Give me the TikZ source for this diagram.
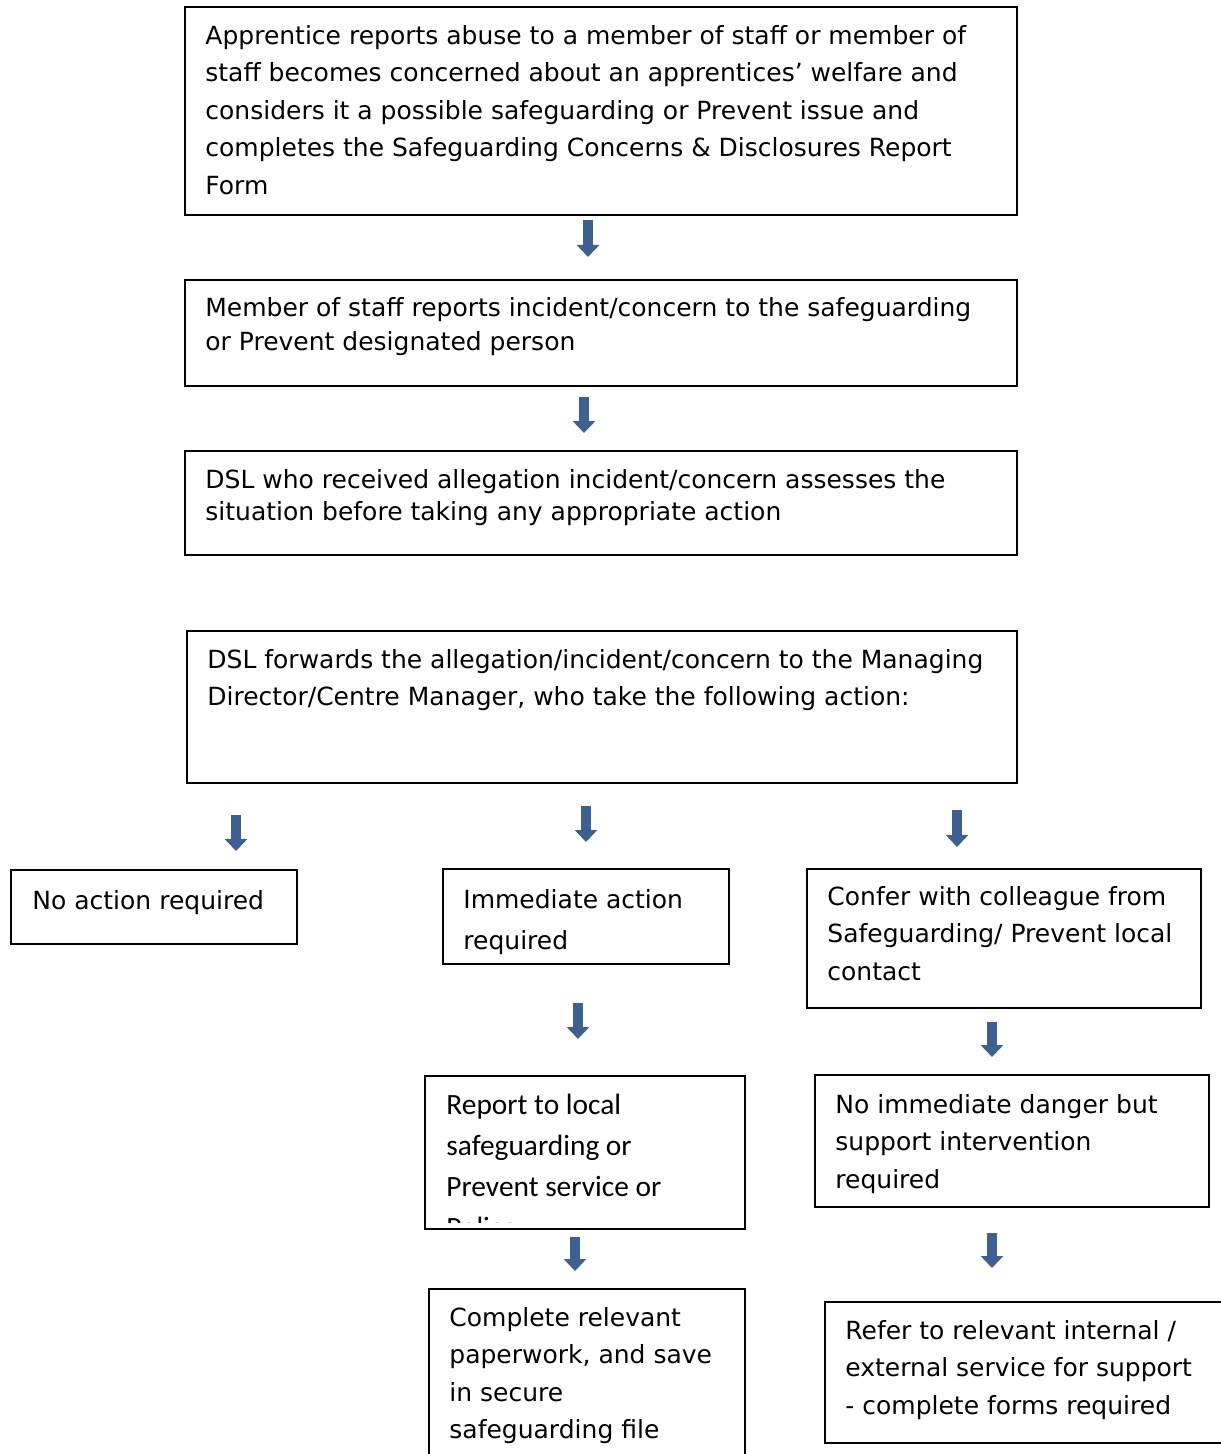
\documentclass[tikz,border=0pt]{standalone}
\usepackage{fontspec}
\setmainfont{DejaVu Sans}
\newfontfamily\calibrifont{Carlito}
\usetikzlibrary{arrows.meta}
\definecolor{arrowblue}{RGB}{62,96,145}

\begin{document}
\begin{tikzpicture}[x=0.5pt, y=-0.5pt,
    flowbox/.style={draw, line width=1pt, inner sep=0pt},
    flowtext/.style={anchor=north west, inner sep=0pt, align=left},
    downarrow/.style={draw=arrowblue, line width=5pt, -{Triangle[width=11pt, length=6pt]}}]
    \useasboundingbox (0,0) rectangle (1220,1454);

    % top column of boxes
    \node[flowbox, minimum width=416pt, minimum height=104pt] (report) at (601,111) {};
    \node[flowtext, font=\fontsize{12.5}{18.75}\selectfont] (reporttxt) at (205,25)
        {Apprentice reports abuse to a member of staff or member of\\
         staff becomes concerned about an apprentices’ welfare and\\
         considers it a possible safeguarding or Prevent issue and\\
         completes the Safeguarding Concerns \& Disclosures Report\\
         Form};

    \node[flowbox, minimum width=416pt, minimum height=53pt] (tell) at (601,333) {};
    \node[flowtext, font=\fontsize{12.5}{17}\selectfont] (telltxt) at (205,297)
        {Member of staff reports incident/concern to the safeguarding\\
         or Prevent designated person};

    \node[flowbox, minimum width=416pt, minimum height=52pt] (assess) at (601,503) {};
    \node[flowtext, font=\fontsize{12.5}{16}\selectfont] (assesstxt) at (205,469)
        {DSL who received allegation incident/concern assesses the\\
         situation before taking any appropriate action};

    \node[flowbox, minimum width=415pt, minimum height=76pt] (forward) at (602,707) {};
    \node[flowtext, font=\fontsize{12.5}{18.5}\selectfont] (forwardtxt) at (207,649)
        {DSL forwards the allegation/incident/concern to the Managing\\
         Director/Centre Manager, who take the following action:};

    % three outcomes
    \node[flowbox, minimum width=143pt, minimum height=37pt] (noaction) at (154,907) {};
    \node[flowtext, font=\fontsize{12.5}{18.75}\selectfont] (noactiontxt) at (32,890)
        {No action required};

    \node[flowbox, minimum width=143pt, minimum height=47.5pt] (immediate) at (586,916.5) {};
    \node[flowtext, font=\fontsize{12.5}{20.5}\selectfont] (immediatetxt) at (463,889)
        {Immediate action\\ required};

    \node[flowbox, minimum width=197pt, minimum height=69.5pt] (confer) at (1004,938.5) {};
    \node[flowtext, font=\fontsize{12.5}{18.75}\selectfont] (confertxt) at (827,886)
        {Confer with colleague from\\
         Safeguarding/ Prevent local\\
         contact};

    % second level
    \node[flowbox, minimum width=160pt, minimum height=76.5pt] (local) at (585,1152.5) {};
    \begin{scope}
        \clip (425,1076) rectangle (745,1222);
        \node[flowtext, font=\calibrifont\fontsize{14.7}{20.5}\selectfont] (localtxt) at (446,1094)
            {Report to local\\
             safeguarding or\\
             Prevent service or\\
             Police};
    \end{scope}

    \node[flowbox, minimum width=197pt, minimum height=66pt] (nodanger) at (1012,1141) {};
    \node[flowtext, font=\fontsize{12.5}{18.75}\selectfont] (nodangertxt) at (835,1094)
        {No immediate danger but\\
         support intervention\\
         required};

    % bottom level
    \node[flowbox, minimum width=158pt, minimum height=95.5pt] (paperwork) at (587,1384.5) {};
    \node[flowtext, font=\fontsize{12.5}{18.7}\selectfont] (paperworktxt) at (449,1307)
        {Complete relevant\\
         paperwork, and save\\
         in secure\\
         safeguarding file};

    \node[flowbox, minimum width=207.5pt, minimum height=70.5pt] (refer) at (1032.5,1372.5) {};
    \node[flowtext, font=\fontsize{12.5}{18.75}\selectfont] (refertxt) at (845,1320)
        {Refer to relevant internal /\\
         external service for support\\
         - complete forms required};

    % block arrows
    \coordinate (a1) at (588,220);  \coordinate (b1) at (588,257);
    \coordinate (a2) at (584,397);  \coordinate (b2) at (584,433);
    \coordinate (a3) at (236,815);  \coordinate (b3) at (236,851);
    \coordinate (a4) at (586,806);  \coordinate (b4) at (586,842);
    \coordinate (a5) at (957,810);  \coordinate (b5) at (957,847);
    \coordinate (a6) at (578,1003); \coordinate (b6) at (578,1039);
    \coordinate (a7) at (992,1022); \coordinate (b7) at (992,1057);
    \coordinate (a8) at (575,1237); \coordinate (b8) at (575,1271);
    \coordinate (a9) at (992,1233); \coordinate (b9) at (992,1268);
    \foreach \i in {1,...,9}
        \draw[downarrow] (a\i) -- (b\i);
\end{tikzpicture}
\end{document}
